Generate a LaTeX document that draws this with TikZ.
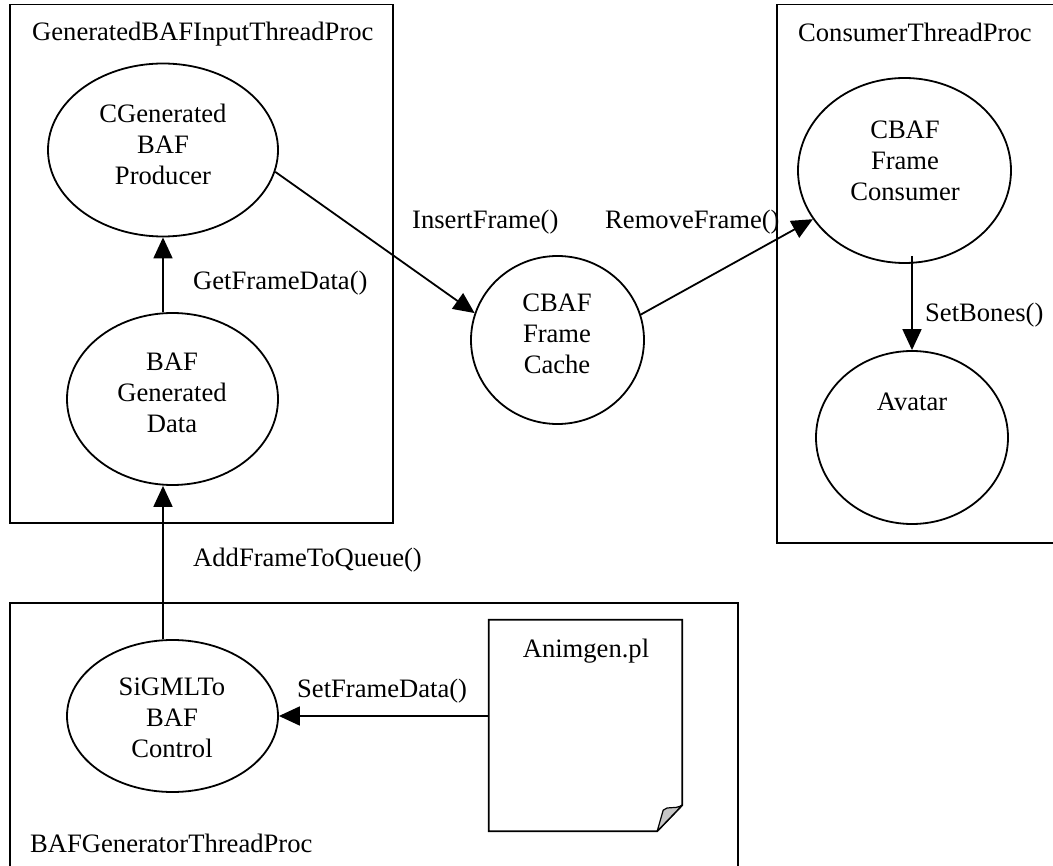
\documentclass[tikz,border=0pt]{standalone}
\usepackage{fontspec}
\setmainfont{Liberation Serif}
\usetikzlibrary{shapes.geometric,arrows.meta}
\newcommand{\lblfont}{\fontsize{26.6}{31}\selectfont}
\tikzset{
  frame/.style={draw, line width=1.8pt},
  ell/.style={ellipse, draw, line width=1.8pt, inner sep=0pt, fill=white},
  txt/.style={font=\lblfont, inner sep=0pt, align=center},
  flow/.style={line width=1.8pt, -{Triangle[length=21pt,width=19pt]}},
}
\begin{document}
\begin{tikzpicture}[x=1pt, y=-1pt]
\useasboundingbox (0,0) rectangle (1053,866);
\clip (0,0) rectangle (1053,866);
\fill[white] (0,0) rectangle (1053,866);

% thread frames
\draw[frame] (10,4.5) rectangle (393,523);
\draw[frame] (777,4.5) rectangle (1070,543);
\draw[frame] (10,603) rectangle (738,880);

\node[txt, anchor=base west] (t-gen) at (32,41) {GeneratedBAFInputThreadProc};
\node[txt, anchor=base west] (t-con) at (798,42) {ConsumerThreadProc};
\node[txt, anchor=base west] (t-bgen) at (30,852) {BAFGeneratorThreadProc};

% objects
\node[ell, minimum width=230pt, minimum height=173pt] (prod) at (163,150) {};
\node[ell, minimum width=211pt, minimum height=172pt] (data) at (172.5,399) {};
\node[ell, minimum width=211pt, minimum height=152pt] (sigml) at (172.5,716) {};
\node[ell, minimum width=173pt, minimum height=168pt] (cache) at (557.5,340) {};
\node[ell, minimum width=213pt, minimum height=185pt] (cons) at (904.5,170.5) {};
\node[ell, minimum width=192pt, minimum height=173pt] (avatar) at (912,437.5) {};

\node[txt, anchor=north] (prod-t) at (163,104) {CGenerated\\BAF\\Producer};
\node[txt, anchor=north] (data-t) at (172,353) {BAF\\Generated\\Data};
\node[txt, anchor=north] (sigml-t) at (172,678) {SiGMLTo\\BAF\\Control};
\node[txt, anchor=north] (cache-t) at (557,294) {CBAF\\Frame\\Cache};
\node[txt, anchor=north] (cons-t) at (905,121) {CBAF\\Frame\\Consumer};
\node[txt, anchor=north] (avatar-t) at (912,393) {Avatar};

% script document with curled corner
\node[minimum width=193pt, minimum height=211pt, inner sep=0pt] (doc) at (585.5,725.5) {};
\draw[line width=1.8pt, fill=white, line join=miter]
  (doc.north west) -- (doc.north east) -- ([yshift=26pt]doc.south east)
  -- ([xshift=-25pt]doc.south east) -- (doc.south west) -- cycle;
\draw[line width=1.2pt, fill=black!22, line join=round]
  ([xshift=-25pt]doc.south east) -- ([xshift=-19pt,yshift=21pt]doc.south east)
  .. controls ([xshift=-14pt,yshift=26pt]doc.south east) and ([xshift=-9pt,yshift=21pt]doc.south east)
  .. ([yshift=26pt]doc.south east) -- cycle;
\node[txt, anchor=base] (doc-t) at (586,657) {Animgen.pl};

% calls between objects
\draw[flow] (data.north -| prod.south) -- (prod.south);
\draw[flow] (sigml.north -| prod.south) -- (data.south -| prod.south);
\draw[flow] (doc.west |- sigml.east) -- (sigml.east);
\draw[flow] (prod.-11) -- (cache.162);
\draw[flow] (cache.17) -- (cons.208);
\draw[flow] ([yshift=8pt]cons.south -| avatar.north) -- (avatar.north);

% call labels
\node[txt, anchor=base west] (l-get) at (193,290) {GetFrameData()};
\node[txt, anchor=base west] (l-ins) at (412,229) {InsertFrame()};
\node[txt, anchor=base west] (l-rem) at (605,229) {RemoveFrame()};
\node[txt, anchor=base west] (l-bones) at (925,322) {SetBones()};
\node[txt, anchor=base west] (l-add) at (193,566) {AddFrameToQueue()};
\node[txt, anchor=base west] (l-set) at (297,697) {SetFrameData()};
\end{tikzpicture}
\end{document}
